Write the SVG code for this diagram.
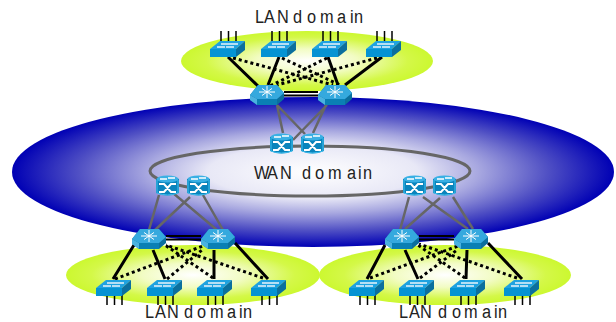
<svg xmlns="http://www.w3.org/2000/svg" width="616" height="322" viewBox="0 0 616 322">
<style>
text{font-family:"Liberation Sans",Arial,sans-serif;font-size:19px;fill:#222}
.solid{stroke:#000;stroke-width:3;fill:none}
.dot{stroke:#000;stroke-width:3;stroke-dasharray:3 3;fill:none}
.grey{stroke:#666;stroke-width:2.500;fill:none}
.thin{stroke:#000;stroke-width:2;fill:none}
.g{stroke:#fff;stroke-width:1;fill:none}
</style>
<defs>
<radialGradient id="blue"><stop offset="0" stop-color="#fff"/><stop offset=".35" stop-color="#e8e8f6"/><stop offset=".55" stop-color="#a8a8e0"/><stop offset=".78" stop-color="#5050c4"/><stop offset="1" stop-color="#0000b4"/></radialGradient>
<radialGradient id="lime"><stop offset="0" stop-color="#fff"/><stop offset=".4" stop-color="#f2fcc4"/><stop offset=".8" stop-color="#d4f848"/><stop offset="1" stop-color="#ccf830"/></radialGradient>
<g id="sw">
<path d="M0 8L10 0H35L26 8Z" fill="#1fa2e0"/>
<path d="M0 8H26V16H0Z" fill="#0593d3"/>
<path d="M26 8L35 0V9L26 16Z" fill="#0b6f9e"/>
<path d="M7 6H15M11 3H20M16 6H24M20 3H28" stroke="#e8f4fa" stroke-width="1.500" fill="none"/>
</g>
<g id="ticks"><path d="M11 0V10M18.500 0V10M26 0V10" stroke="#000" stroke-width="1.500" fill="none"/></g>
<g id="rt">
<path d="M0 10L8 0H27L34 8V14L27 20H7L0 15Z" fill="#0b6f9e"/>
<path d="M0 10L8 0H27L34 8L27 14H7Z" fill="#35a9de"/>
<path d="M7 14H27V20H7Z" fill="#0a7fb4"/>
<path d="M0 10V15L7 20V14Z" fill="#4ab2e0"/>
<path d="M17 1V13M9 7H25M12 3.500L22 10.500M22 3.500L12 10.500" class="g"/>
</g>
<g id="xr">
<path d="M0 4V18Q11.500 23 23 18V4Q11.500 0 0 4Z" fill="#0a84bc"/>
<ellipse cx="11.500" cy="4" rx="11" ry="3.500" fill="#3ab0e4"/>
<path d="M4 4H11M12 3H19" stroke="#fff" stroke-width="1.500" fill="none"/>
<path d="M3 9H8L15 17H20M3 17H8L15 9H20" stroke="#fff" stroke-width="2" fill="none"/>
<path d="M1 5V18Q11.500 22 22 18V5" stroke="#40c0f0" fill="none"/>
</g>
</defs>
<g id="domain-lan-top"><ellipse cx="307" cy="61" rx="126" ry="30" fill="url(#lime)"/></g>
<g id="domain-lan-left"><ellipse cx="193" cy="275" rx="127" ry="30" fill="url(#lime)"/></g>
<g id="domain-lan-right"><ellipse cx="445" cy="275" rx="126" ry="30" fill="url(#lime)"/></g>
<g id="domain-wan">
<ellipse cx="313" cy="172" rx="301" ry="75" fill="url(#blue)"/>
<ellipse cx="310" cy="171" rx="160" ry="25" fill="none" stroke="#666" stroke-width="3"/>
</g>
<g id="connectors">
<path class="solid" d="M228 57L258 86M279 57L268 85M328 57L338 85M382 57L345 85"/>
<path class="dot" d="M233 58L333 85M282 58L340 85M327 58L270 86M377 58L277 85"/>
<path class="thin" d="M284 92H318M284 95.500H318"/>
<path class="grey" d="M277 105L283 133M277 105L305 134M327 105L293 140M326 105L313 133"/>
<path class="grey" d="M159 195L149 230M173 193L217 230M190 197L155 230M203 195L223 230"/>
<path class="grey" d="M409 197L400 230M423 197L468 229M440 198L405 229M453 197L473 229"/>
<path class="solid" d="M134 245L113 279M153 250L165 279M214 250L214 279M235 243L268 279"/>
<path class="dot" d="M115 279L203 246M167 279L202 250M213 278L165 245M263 278L166 245"/>
<path class="thin" d="M166 236H201M166 239.500H201"/>
<path class="solid" d="M385 245L367 279M405 250L418 279M467 250L466 279M488 243L522 279"/>
<path class="dot" d="M370 278L458 246M420 278L457 250M465 278L418 245M517 278L419 244"/>
<path class="thin" d="M419 236H454M419 239.500H454"/>
<use href="#ticks" x="210" y="31"/><use href="#ticks" x="261" y="31"/><use href="#ticks" x="312" y="31"/><use href="#ticks" x="366" y="31"/>
<use href="#ticks" x="96" y="295"/><use href="#ticks" x="147" y="295"/><use href="#ticks" x="197" y="295"/><use href="#ticks" x="251" y="295"/>
<use href="#ticks" x="349" y="295"/><use href="#ticks" x="399" y="295"/><use href="#ticks" x="450" y="295"/><use href="#ticks" x="504" y="295"/>
</g>
<g id="sw-t1"><use href="#sw" x="210" y="41"/></g>
<g id="sw-t2"><use href="#sw" x="261" y="41"/></g>
<g id="sw-t3"><use href="#sw" x="312" y="41"/></g>
<g id="sw-t4"><use href="#sw" x="366" y="41"/></g>
<g id="sw-l1"><use href="#sw" x="96" y="280"/></g>
<g id="sw-l2"><use href="#sw" x="147" y="280"/></g>
<g id="sw-l3"><use href="#sw" x="197" y="280"/></g>
<g id="sw-l4"><use href="#sw" x="251" y="280"/></g>
<g id="sw-r1"><use href="#sw" x="349" y="280"/></g>
<g id="sw-r2"><use href="#sw" x="399" y="280"/></g>
<g id="sw-r3"><use href="#sw" x="450" y="280"/></g>
<g id="sw-r4"><use href="#sw" x="504" y="280"/></g>
<g id="rt-t1"><use href="#rt" x="250" y="85"/></g>
<g id="rt-t2"><use href="#rt" x="318" y="85"/></g>
<g id="rt-l1"><use href="#rt" x="132" y="229"/></g>
<g id="rt-l2"><use href="#rt" x="201" y="229"/></g>
<g id="rt-r1"><use href="#rt" x="385" y="229"/></g>
<g id="rt-r2"><use href="#rt" x="454" y="229"/></g>
<g id="xr-t1"><use href="#xr" x="270" y="133"/></g>
<g id="xr-t2"><use href="#xr" x="301" y="133"/></g>
<g id="xr-l1"><use href="#xr" x="156" y="175"/></g>
<g id="xr-l2"><use href="#xr" x="187" y="175"/></g>
<g id="xr-r1"><use href="#xr" x="403" y="175"/></g>
<g id="xr-r2"><use href="#xr" x="433" y="175"/></g>
<g id="labels">
<text transform="scale(.86 1)" x="296.500 307 322.100 336 340.700 357 372.100 391.900 407 411.600" y="23">LAN domain</text>
<text transform="scale(.86 1)" x="295.300 310.500 325.600 343 351.200 366.300 381.400 403.500 416.300 422.100" y="179">WAN domain</text>
<text transform="scale(.86 1)" x="168.600 180.200 194.200 209.300 214 229.100 244.200 264 277.900 282.600" y="318">LAN domain</text>
<text transform="scale(.86 1)" x="464 475.600 488.400 504.700 509.300 525.600 539.500 560.500 574.400 579.100" y="318">LAN domain</text>
</g>
</svg>
